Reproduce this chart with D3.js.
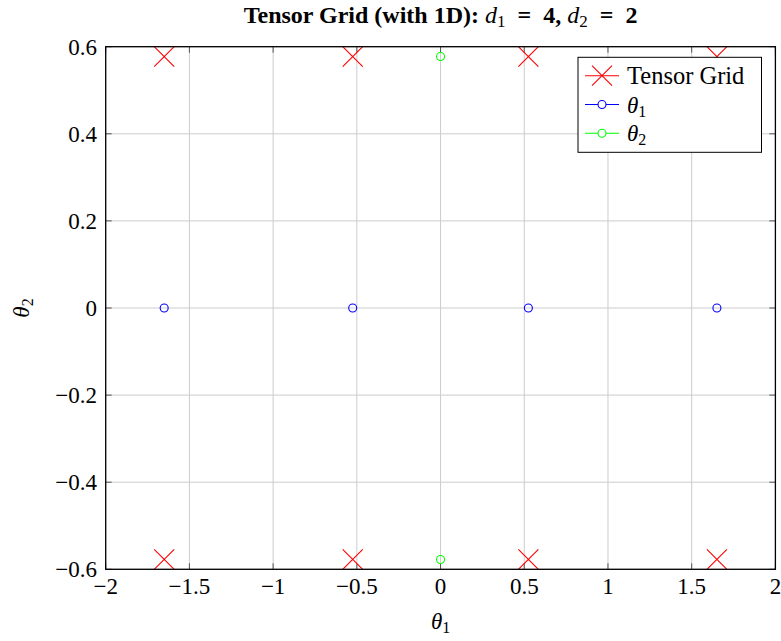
<!DOCTYPE html>
<html><head><meta charset="utf-8">
<script src="https://cdn.jsdelivr.net/npm/d3@7"></script>
<style>body{margin:0;background:#fff}svg{display:block}text{font-family:"Liberation Serif","Times New Roman",serif}</style>
</head><body>
<svg id="c" width="781" height="641"></svg>
<script>
const theta1Nodes = [-1.6507, -0.5246, 0.5246, 1.6507];
const theta1Y = [0, 0, 0, 0];
const theta2X = [0, 0];
const theta2Nodes = [-0.5774, 0.5774];
const tensorGridX = [-1.6507, -0.5246, 0.5246, 1.6507, -1.6507, -0.5246, 0.5246, 1.6507];
const tensorGridY = [-0.5774, -0.5774, -0.5774, -0.5774, 0.5774, 0.5774, 0.5774, 0.5774];
const xTicks = [-2, -1.5, -1, -0.5, 0, 0.5, 1, 1.5, 2];
const yTicks = [-0.6, -0.4, -0.2, 0, 0.2, 0.4, 0.6];
const legendLabels = ["Tensor Grid", "θ", "θ"];

const svg = d3.select("#c");
const L = 105.7, R = 775.4, T = 46.7, B = 569.3;
const x = d3.scaleLinear().domain([-2, 2]).range([L, R]);
const y = d3.scaleLinear().domain([-0.6, 0.6]).range([B, T]);
const FS = 23;
const fmt = v => (v < 0 ? "\u2212" : "") + String(Math.abs(Math.round(v * 10) / 10));

svg.append("defs").append("clipPath").attr("id", "clip")
  .append("rect").attr("x", L).attr("y", T).attr("width", R - L).attr("height", B - T);

// grid
const g = svg.append("g");
g.selectAll(".gx").data(xTicks).join("line")
  .attr("x1", d => x(d)).attr("x2", d => x(d)).attr("y1", T).attr("y2", B)
  .attr("stroke", "#cccccc").attr("stroke-width", 1);
g.selectAll(".gy").data(yTicks).join("line")
  .attr("y1", d => y(d)).attr("y2", d => y(d)).attr("x1", L).attr("x2", R)
  .attr("stroke", "#cccccc").attr("stroke-width", 1);

// ticks (inward on all sides)
const tl = 6, tc = "#555";
xTicks.forEach(d => {
  g.append("line").attr("x1", x(d)).attr("x2", x(d)).attr("y1", B).attr("y2", B - tl).attr("stroke", tc);
  g.append("line").attr("x1", x(d)).attr("x2", x(d)).attr("y1", T).attr("y2", T + tl).attr("stroke", tc);
});
yTicks.forEach(d => {
  g.append("line").attr("y1", y(d)).attr("y2", y(d)).attr("x1", L).attr("x2", L + tl).attr("stroke", tc);
  g.append("line").attr("y1", y(d)).attr("y2", y(d)).attr("x1", R).attr("x2", R - tl).attr("stroke", tc);
});

// tick labels
svg.selectAll(".xl").data(xTicks).join("text")
  .attr("x", d => x(d)).attr("y", 594).attr("text-anchor", "middle")
  .attr("font-size", FS).text(fmt);
svg.selectAll(".yl").data(yTicks).join("text")
  .attr("x", 97).attr("y", d => y(d) + 8).attr("text-anchor", "end")
  .attr("font-size", FS).text(fmt);

// data
const plot = svg.append("g").attr("clip-path", "url(#clip)");
const cs = 10;
const crossPath = (cx, cy) => `M${cx - cs},${cy - cs}L${cx + cs},${cy + cs}M${cx - cs},${cy + cs}L${cx + cs},${cy - cs}`;
plot.selectAll(".tg").data(tensorGridX.map((v, i) => [v, tensorGridY[i]])).join("path")
  .attr("d", d => crossPath(x(d[0]), y(d[1]))).attr("stroke", "#ff0000").attr("stroke-width", 1.1).attr("fill", "none");
plot.selectAll(".t1").data(theta1Nodes.map((v, i) => [v, theta1Y[i]])).join("circle")
  .attr("cx", d => x(d[0])).attr("cy", d => y(d[1])).attr("r", 4)
  .attr("fill", "none").attr("stroke", "#0000ff").attr("stroke-width", 1.1);
plot.selectAll(".t2").data(theta2Nodes.map((v, i) => [theta2X[i], v])).join("circle")
  .attr("cx", d => x(d[0])).attr("cy", d => y(d[1])).attr("r", 4)
  .attr("fill", "none").attr("stroke", "#00ff00").attr("stroke-width", 1.1);

// frame
svg.append("rect").attr("x", L).attr("y", T).attr("width", R - L).attr("height", B - T)
  .attr("fill", "none").attr("stroke", "#000").attr("stroke-width", 1.3);

// legend
const lg = svg.append("g");
lg.append("rect").attr("x", 578).attr("y", 57.3).attr("width", 183.5).attr("height", 95)
  .attr("fill", "#fff").attr("stroke", "#000").attr("stroke-width", 1);
const rows = [75.7, 104.5, 133.3];
const colors = ["#ff0000", "#0000ff", "#00ff00"];
rows.forEach((ry, i) => {
  lg.append("line").attr("x1", 585).attr("x2", 619).attr("y1", ry).attr("y2", ry).attr("stroke", colors[i]).attr("stroke-width", 1.1);
  if (i === 0) {
    lg.append("path").attr("d", crossPath(602, ry)).attr("stroke", colors[i]).attr("stroke-width", 1.1).attr("fill", "none");
  } else {
    lg.append("circle").attr("cx", 602).attr("cy", ry).attr("r", 4).attr("fill", "#fff").attr("stroke", colors[i]).attr("stroke-width", 1.1);
  }
  const t = lg.append("text").attr("x", 627).attr("y", ry + 8).attr("font-size", FS);
  if (i === 0) t.attr("font-size", 24.5).text(legendLabels[0]);
  else {
    t.append("tspan").attr("font-style", "italic").text(legendLabels[i]);
    t.append("tspan").attr("font-size", 16).attr("dy", 4).text(String(i));
  }
});

// title
const title = svg.append("text").attr("x", (L + R) / 2).attr("y", 23).attr("text-anchor", "middle")
  .attr("font-size", 24).attr("font-weight", "bold");
title.append("tspan").text("Tensor Grid (with 1D): ");
title.append("tspan").attr("font-style", "italic").attr("font-weight", "normal").text("d");
title.append("tspan").attr("font-size", 17).attr("font-weight", "normal").attr("dy", 4).text("1");
title.append("tspan").attr("dy", -4).text("\u2002=\u20024, ");
title.append("tspan").attr("font-style", "italic").attr("font-weight", "normal").text("d");
title.append("tspan").attr("font-size", 17).attr("font-weight", "normal").attr("dy", 4).text("2");
title.append("tspan").attr("dy", -4).text("\u2002=\u20022");

// axis labels
const xl = svg.append("text").attr("x", (L + R) / 2).attr("y", 629).attr("text-anchor", "middle").attr("font-size", FS);
xl.append("tspan").attr("font-style", "italic").text("θ");
xl.append("tspan").attr("font-size", 16).attr("dy", 4).text("1");
const yl = svg.append("text").attr("transform", `translate(29,${(T + B) / 2}) rotate(-90)`).attr("text-anchor", "middle").attr("font-size", FS);
yl.append("tspan").attr("font-style", "italic").text("θ");
yl.append("tspan").attr("font-size", 16).attr("dy", 4).text("2");
</script>
</body></html>
